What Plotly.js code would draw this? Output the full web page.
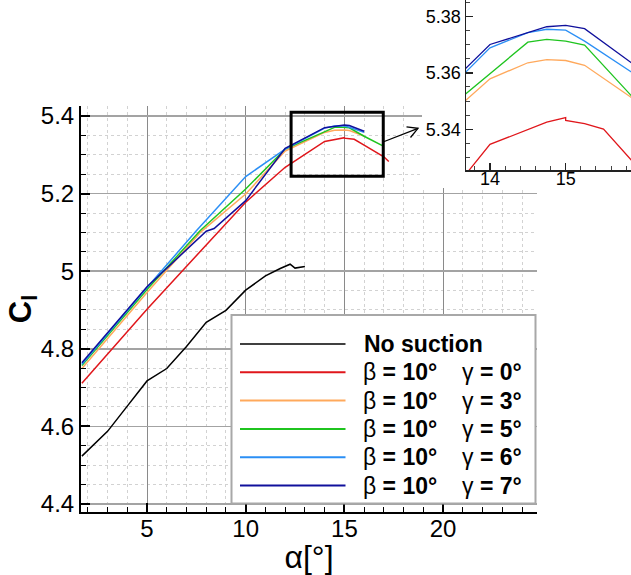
<!DOCTYPE html>
<html>
<head>
<meta charset="utf-8">
<script src="https://cdn.plot.ly/plotly-3.0.1.min.js"></script>
<style>
  html, body { margin: 0; padding: 0; background: #ffffff; }
  #main { position: absolute; left: 0; top: 0; width: 631px; height: 575px; }
  #inset { position: absolute; left: 422px; top: 0; width: 209px; height: 200px; }
</style>
</head>
<body>
<div id="main"></div>
<div id="inset"></div>
<script>
// ---------------- DATA ----------------
var seriesNames = ["No suction", "γ = 0°", "γ = 3°", "γ = 5°", "γ = 6°", "γ = 7°"];
var betaValue = 10;
var gammaValues = [0, 3, 5, 6, 7];
var seriesColors = ["#000000", "#e0161b", "#ffa95c", "#1fc41f", "#2b8ff5", "#10109c"];

var alphaNoSuction = [1.7, 3, 4, 5, 6, 7, 8, 9, 10, 11, 11.75, 12.25, 12.5, 13];
var clNoSuction    = [4.523, 4.587, 4.652, 4.717, 4.749, 4.806, 4.868, 4.899, 4.951, 4.988, 5.007, 5.018, 5.008, 5.012];

var alphaG0 = [1.7, 5, 10, 12, 14, 14.75, 15, 15, 15.25, 15.5, 16, 17, 17.25];
var clG0    = [4.711, 4.902, 5.178, 5.268, 5.3346, 5.3425, 5.3441, 5.3431, 5.3420, 5.3400, 5.3250, 5.2950, 5.2830];

var alphaG3 = [1.7, 5, 7.7, 10, 12, 14, 14.5, 14.75, 15, 15.25, 16];
var clG3    = [4.749, 4.945, 5.100, 5.199, 5.310, 5.3579, 5.3636, 5.3647, 5.3644, 5.3627, 5.3488];

var alphaG5 = [1.7, 5, 7.7, 10, 12, 14.5, 14.75, 15, 15.25, 16, 17];
var clG5    = [4.757, 4.953, 5.105, 5.212, 5.315, 5.3709, 5.3719, 5.3713, 5.3699, 5.3480, 5.3220];

var alphaG6 = [1.7, 5, 7.5, 10, 12, 14, 14.5, 14.75, 15, 15.25, 16];
var clG6    = [4.760, 4.958, 5.104, 5.244, 5.315, 5.3689, 5.3743, 5.3755, 5.3752, 5.3713, 5.3580];

var alphaG7 = [1.7, 5, 8, 8.4, 10, 12, 14, 14.5, 14.75, 15, 15.25, 16];
var clG7    = [4.764, 4.960, 5.103, 5.110, 5.182, 5.317, 5.3701, 5.3743, 5.3764, 5.3769, 5.3757, 5.3610];

var xTitle = "α[°]";
var yTitle = "<b>C<sub>l</sub></b>";

// ---------------- BUILD ----------------
var allAlpha = [alphaNoSuction, alphaG0, alphaG3, alphaG5, alphaG6, alphaG7];
var allCl = [clNoSuction, clG0, clG3, clG5, clG6, clG7];

function makeTraces(width) {
  return allAlpha.map(function (a, i) {
    return {
      type: "scatter", mode: "lines", x: a, y: allCl[i],
      name: i === 0 ? seriesNames[0] : "β = " + betaValue + "°  " + seriesNames[i],
      line: { color: seriesColors[i], width: width },
      showlegend: false, hoverinfo: "skip"
    };
  });
}

var W = 631, H = 575;
function px(x) { return x / W; }
function py(y) { return 1 - y / H; }

var FONT = "Liberation Sans, Arial, Helvetica, sans-serif";

// manual legend
var shapes = [];
var annotations = [];
shapes.push({ type: "rect", xref: "paper", yref: "paper", layer: "above",
  x0: px(231.5), x1: px(535.5), y0: py(503.5), y1: py(315),
  fillcolor: "#ffffff", line: { color: "#a8a8a8", width: 2 } });
var rowY = [344, 372.3, 400.6, 428.9, 457.2, 485.5];
for (var i = 0; i < seriesNames.length; i++) {
  shapes.push({ type: "line", xref: "paper", yref: "paper", layer: "above",
    x0: px(240), x1: px(345.5), y0: py(rowY[i]), y1: py(rowY[i]),
    line: { color: seriesColors[i], width: i === 0 ? 1.3 : 2 } });
  if (i === 0) {
    annotations.push({ xref: "paper", yref: "paper", x: px(362), y: py(rowY[i]),
      xanchor: "left", yanchor: "middle", showarrow: false,
      text: "<b>" + seriesNames[0] + "</b>", font: { family: FONT, size: 23, color: "#000" } });
  } else {
    annotations.push({ xref: "paper", yref: "paper", x: px(361), y: py(rowY[i]),
      xanchor: "left", yanchor: "middle", showarrow: false,
      text: "β<b> = " + betaValue + "°</b>", font: { family: FONT, size: 23, color: "#000" } });
    annotations.push({ xref: "paper", yref: "paper", x: px(460), y: py(rowY[i]),
      xanchor: "left", yanchor: "middle", showarrow: false,
      text: "γ<b> = " + gammaValues[i - 1] + "°</b>", font: { family: FONT, size: 23, color: "#000" } });
  }
}

// zoom box
shapes.push({ type: "rect", xref: "x", yref: "y", layer: "above",
  x0: 12.3, x1: 16.97, y0: 5.245, y1: 5.41, line: { color: "#000", width: 3 } });
// arrow
shapes.push({ type: "path", xref: "paper", yref: "paper", layer: "above",
  path: "M" + px(383) + "," + py(142) + " L" + px(418) + "," + py(128.3),
  line: { color: "#000", width: 1.3 } });
shapes.push({ type: "path", xref: "paper", yref: "paper", layer: "above",
  path: "M" + px(406.5) + "," + py(126.8) + " L" + px(418) + "," + py(128.3) + " L" + px(410.5) + "," + py(137.5),
  line: { color: "#000", width: 1.3 } });

var mainLayout = {
  width: W, height: H,
  margin: { l: 0, r: 0, t: 0, b: 0 },
  paper_bgcolor: "#ffffff", plot_bgcolor: "#ffffff",
  font: { family: FONT, color: "#000" },
  showlegend: false,
  xaxis: {
    domain: [81 / W, 537 / W], range: [1.655, 24.76], automargin: false,
    tick0: 0, dtick: 5, ticks: "inside", ticklen: 9, tickwidth: 2, tickcolor: "#000",
    ticklabelstandoff: -6,
    showline: true, linewidth: 2, linecolor: "#000", zeroline: false,
    showgrid: true, gridcolor: "#8a8a8a", gridwidth: 1,
    minor: { dtick: 1, ticks: "inside", ticklen: 5, tickwidth: 1, tickcolor: "#000",
      showgrid: true, gridcolor: "#d2d2d2", griddash: "dot", gridwidth: 1 },
    tickfont: { family: FONT, size: 24, color: "#000" },
    title: { text: xTitle, font: { family: FONT, size: 32, color: "#000" }, standoff: 2 }
  },
  yaxis: {
    domain: [(H - 512) / H, (H - 106) / H], range: [4.379, 5.426], automargin: false,
    tick0: 4.4, dtick: 0.2, ticks: "inside", ticklen: 9, tickwidth: 2, tickcolor: "#000",
    showline: true, linewidth: 2, linecolor: "#000", zeroline: false,
    showgrid: true, gridcolor: "#a3a3a3", gridwidth: 1.5,
    minor: { dtick: 0.05, ticks: "inside", ticklen: 5, tickwidth: 1, tickcolor: "#000",
      showgrid: true, gridcolor: "#d2d2d2", griddash: "dot", gridwidth: 1 },
    tickfont: { family: FONT, size: 24, color: "#000" },
    title: { text: yTitle, font: { family: FONT, size: 31, color: "#000" }, standoff: 0 }
  },
  shapes: shapes,
  annotations: annotations
};

Plotly.newPlot("main", makeTraces(1.5), mainLayout, { displayModeBar: false, staticPlot: true });

// inset: plot area 466..631 x 0..170 (page pixels); white backing up to y=188
var insetL = 44, insetPlotW = 165, insetPlotH = 170;
var insetLayout = {
  width: 209, height: 200,
  margin: { l: insetL, r: 0, t: 0, b: 30 },
  paper_bgcolor: "rgba(0,0,0,0)", plot_bgcolor: "rgba(0,0,0,0)",
  font: { family: FONT, color: "#000" },
  showlegend: false,
  shapes: [{ type: "rect", xref: "paper", yref: "paper", layer: "below",
    x0: -insetL / insetPlotW, x1: 1, y0: -18 / insetPlotH, y1: 1,
    fillcolor: "#ffffff", line: { width: 0 } }],
  xaxis: {
    range: [13.683, 15.863], automargin: false,
    tick0: 14, dtick: 1, ticks: "inside", ticklen: 7, tickwidth: 1.2, tickcolor: "#222",
    ticklabelstandoff: -8,
    showline: true, linewidth: 1.5, linecolor: "#222", zeroline: false, showgrid: false,
    minor: { dtick: 0.2, ticks: "inside", ticklen: 4, tickwidth: 1, tickcolor: "#444", showgrid: false },
    tickfont: { family: FONT, size: 18, color: "#000" }
  },
  yaxis: {
    range: [5.3255, 5.3859], automargin: false,
    tick0: 5.34, dtick: 0.02, ticks: "inside", ticklen: 7, tickwidth: 1.2, tickcolor: "#222",
    showline: true, linewidth: 1.5, linecolor: "#222", zeroline: false, showgrid: false,
    minor: { dtick: 0.005, ticks: "inside", ticklen: 4, tickwidth: 1, tickcolor: "#444", showgrid: false },
    tickfont: { family: FONT, size: 18, color: "#000" }
  }
};

Plotly.newPlot("inset", makeTraces(1.3), insetLayout, { displayModeBar: false, staticPlot: true });
</script>
</body>
</html>
